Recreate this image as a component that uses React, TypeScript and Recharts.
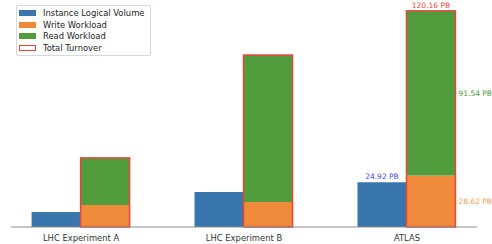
import { ComposedChart, Bar, XAxis, YAxis, LabelList } from "recharts";

const categories = ["LHC Experiment A", "LHC Experiment B", "ATLAS"];
const logicalVolume = [8.3, 19.5, 24.92];
const writeWorkload = [12.2, 13.9, 28.62];
const readWorkload = [26.2, 81.7, 91.54];
const totalTurnover = [38.4, 95.6, 120.16];

const BLUE = "#3a76ae";
const ORANGE = "#ef8a3a";
const GREEN = "#519d3e";
const RED = "#e8453a";
const FONT = "DejaVu Sans, sans-serif";

const data = categories.map((name, i) => ({
  pos: i,
  name,
  volume: logicalVolume[i],
  write: writeWorkload[i],
  read: readWorkload[i],
  total: totalTurnover[i],
}));

const LAST = categories.length - 1;
const fmt = (v: number) => `${v.toFixed(2)} PB`;

// read segment + red outline spanning the whole write+read stack
function ReadShape(props: any) {
  const { x, y, width, height, payload } = props;
  const full = payload.read ? (height * payload.total) / payload.read : height;
  return (
    <g>
      <rect x={x} y={y} width={width} height={height} fill={GREEN} />
      <rect x={x} y={y} width={width} height={full} fill="none" stroke={RED} strokeWidth={1.5} />
    </g>
  );
}

function topLabel(color: string) {
  return (p: any) => {
    if (p.index !== LAST) return null;
    return (
      <text x={p.x + p.width / 2} y={p.y - 3} textAnchor="middle" fill={color} fontSize={7.5} fontFamily={FONT}>
        {fmt(p.value)}
      </text>
    );
  };
}

function sideLabel(color: string) {
  return (p: any) => {
    if (p.index !== LAST) return null;
    return (
      <text x={p.x + p.width + 3} y={p.y + p.height / 2} dy={3} textAnchor="start" fill={color} fontSize={7.5} fontFamily={FONT}>
        {fmt(p.value)}
      </text>
    );
  };
}

// total sits on top of the read segment
function totalLabel(p: any) {
  if (p.index !== LAST) return null;
  return (
    <text x={p.x + p.width / 2} y={p.y - 3} textAnchor="middle" fill={RED} fontSize={7.5} fontFamily={FONT}>
      {fmt(data[p.index].total)}
    </text>
  );
}

const legendItems = [
  { label: "Instance Logical Volume", color: BLUE },
  { label: "Write Workload", color: ORANGE },
  { label: "Read Workload", color: GREEN },
  { label: "Total Turnover", color: RED, hollow: true },
];

function LegendBox() {
  return (
    <div
      style={{
        position: "absolute",
        top: 5,
        left: 16,
        border: "1px solid #d8d8d8",
        borderRadius: 2,
        background: "#fff",
        padding: "1px 6px 1px 2px",
        fontFamily: FONT,
        fontSize: 8.4,
        color: "#222",
      }}
    >
      {legendItems.map((it) => (
        <div key={it.label} style={{ display: "flex", alignItems: "center", height: 11.7 }}>
          <span
            style={{
              display: "inline-block",
              boxSizing: "border-box",
              width: 17,
              height: 6,
              background: it.hollow ? "none" : it.color,
              border: it.hollow ? `1px solid ${it.color}` : "none",
              marginRight: 7,
            }}
          />
          {it.label}
        </div>
      ))}
    </div>
  );
}

export default function App() {
  return (
    <div style={{ width: 492, height: 244, position: "relative", background: "#fff" }}>
      <style>{`body { margin: 0; } .recharts-surface { overflow: visible; }`}</style>
      <ComposedChart width={492} height={244} data={data} margin={{ top: 0, right: 15, bottom: 0, left: 11 }} barGap={0}>
        <XAxis
          type="number"
          dataKey="pos"
          domain={[-0.43, 2.43]}
          ticks={[0, 1, 2]}
          tickFormatter={(i: number) => categories[i]}
          tickLine={false}
          axisLine={{ stroke: "#8c8c8c", strokeWidth: 1 }}
          tick={{ fill: "#333", fontSize: 8.4, fontFamily: FONT }}
          tickMargin={2}
          height={17}
        />
        <YAxis hide domain={[0, 126.2]} />
        <Bar dataKey="volume" stackId="v" fill={BLUE} barSize={49} isAnimationActive={false}>
          <LabelList dataKey="volume" content={topLabel("#4a4aee")} />
        </Bar>
        <Bar dataKey="write" stackId="s" fill={ORANGE} barSize={49} isAnimationActive={false}>
          <LabelList dataKey="write" content={sideLabel("#f5a05a")} />
        </Bar>
        <Bar dataKey="read" stackId="s" fill={GREEN} barSize={49} shape={ReadShape} isAnimationActive={false}>
          <LabelList dataKey="read" content={sideLabel("#4a9a3a")} />
          <LabelList dataKey="read" content={totalLabel} />
        </Bar>
      </ComposedChart>
      <LegendBox />
    </div>
  );
}
